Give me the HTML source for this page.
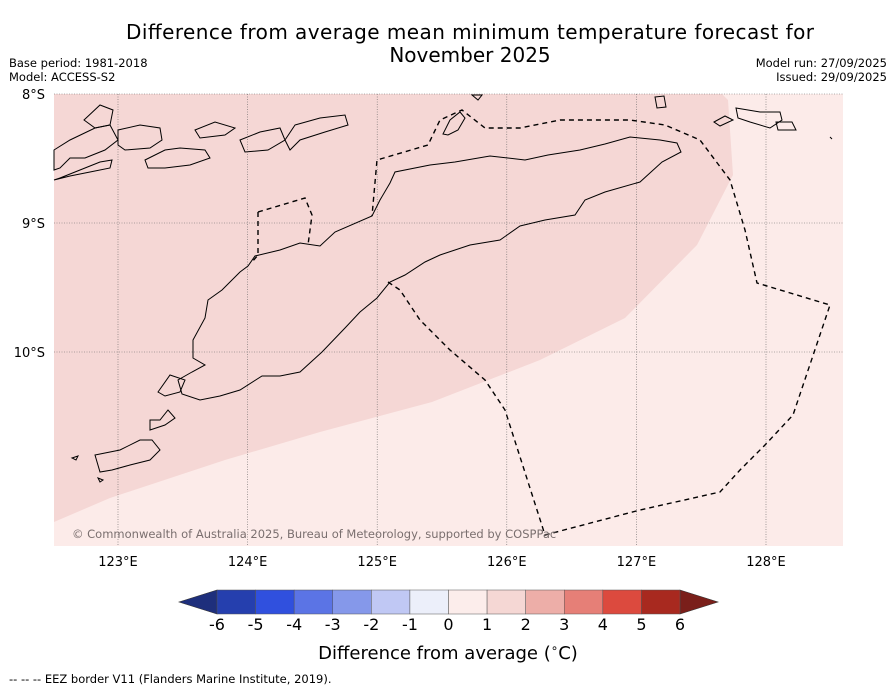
<!DOCTYPE html>
<html><head><meta charset="utf-8"><style>
body{margin:0;width:896px;height:690px;background:#fff;font-family:"DejaVu Sans","Liberation Sans",sans-serif;overflow:hidden}
svg{position:absolute;left:0;top:0}
</style></head><body>
<svg width="896" height="690" viewBox="0 0 896 690" font-family="DejaVu Sans, Liberation Sans, sans-serif">
<text x="470" y="39" font-size="20" text-anchor="middle" textLength="688">Difference from average mean minimum temperature forecast for</text>
<text x="470" y="62" font-size="20" text-anchor="middle">November 2025</text>
<text x="9" y="67" font-size="11.5">Base period: 1981-2018</text>
<text x="9" y="81" font-size="11.5">Model: ACCESS-S2</text>
<text x="887" y="67" font-size="11.5" text-anchor="end">Model run: 27/09/2025</text>
<text x="887" y="81" font-size="11.5" text-anchor="end">Issued: 29/09/2025</text>

<g>
<rect x="54" y="94" width="789" height="452" fill="#fcebe9"/>
<path d="M54,94 L722,94 L728,100 L733,175 L697,245 L625,318 L540,360 L432,402 L320,432 L225,460 L110,498 L54,522 Z" fill="#f5d7d5"/>
<g id="grid" stroke="#666" stroke-width="0.6" stroke-dasharray="1,1.5" fill="none"></g>
<g fill="none" stroke="#000" stroke-width="1">
<path d="M193,358 L193,340 L205,318 L208,300 L222,290 L240,272 L248,266 L255,256 L280,250 L300,243 L320,246 L335,232 L372,216 L380,200 L390,183 L395,172 L430,165 L455,162 L490,156 L525,160 L548,155 L580,150 L605,144 L630,137 L660,140 L677,143 L681,152 L662,162 L640,182 L605,192 L585,200 L575,215 L545,220 L520,226 L500,240 L470,245 L440,255 L425,262 L405,275 L390,282 L377,298 L360,312 L345,328 L322,352 L300,372 L280,376 L262,376 L240,390 L220,396 L200,400 L182,394 L178,380 L192,372 L205,365 Z"/>
<path d="M150,430 L165,425 L175,418 L168,410 L160,420 L150,420 Z M95,455 L120,450 L140,440 L152,440 L160,450 L150,460 L130,465 L112,470 L100,472 Z M158,392 L170,375 L185,380 L180,392 L165,396 Z M72,458 L78,456 L76,460 Z M98,478 L103,480 L100,482 Z"/>
<path d="M54,150 L70,140 L95,128 L110,125 L118,140 L105,150 L85,158 L70,158 L60,168 L54,170 Z M54,180 L70,176 L90,172 L110,168 L112,160 L100,162 L80,170 L60,178 Z"/>
<path d="M118,130 L140,125 L160,128 L162,140 L150,148 L125,150 L118,145 Z M145,160 L165,150 L180,148 L205,150 L210,158 L190,165 L165,168 L148,168 Z M195,130 L215,122 L235,128 L225,135 L200,138 Z"/>
<path d="M240,140 L260,132 L280,128 L285,140 L268,150 L245,152 Z M295,125 L320,118 L345,115 L348,125 L325,132 L300,140 L290,150 L285,140 Z M84,120 L100,105 L113,110 L110,125 L95,128 Z"/>
<path d="M443,134 L450,120 L460,112 L465,118 L458,130 L448,135 Z M472,95 L478,100 L482,95 Z M655,97 L664,96 L666,107 L657,108 Z M714,122 L725,116 L733,120 L720,126 Z M736,108 L760,112 L780,112 L782,120 L770,128 L750,122 L738,118 Z M776,122 L792,122 L796,130 L778,130 Z M830,137 L832,139"/>
</g>
<g fill="none" stroke="#000" stroke-width="1.4" stroke-dasharray="5,4">
<path d="M388,282 L400,290 L420,320 L450,350 L485,380 L505,410 L545,535 L640,510 L720,492 L740,470 L765,445 L793,415 L830,305 L757,283 L745,230 L730,180 L700,140 L665,125 L630,120 L560,120 L520,128 L485,128 L462,110 L440,120 L428,145 L377,160 L372,216"/>
<path d="M258,212 L305,198 L312,215 L308,245 M258,212 L258,255 L252,262"/>
</g>
<text x="72" y="538" font-size="11.5" fill="#7a6f6f">© Commonwealth of Australia 2025, Bureau of Meteorology, supported by COSPPac</text>
<g id="ticks" font-size="13"></g>
</g>

<g id="cbar"></g>
<text x="448" y="659" font-size="18" text-anchor="middle">Difference from average (<tspan font-size="12" dy="-7">∘</tspan><tspan dy="7">C)</tspan></text>
<text x="9" y="683" font-size="11.5">--  --  -- EEZ border V11 (Flanders Marine Institute, 2019).</text>
</svg>
<script>
const lonTicks=[123,124,125,126,127,128];
const latTicks=[8,9,10];
const cbLevels=[-6,-5,-4,-3,-2,-1,0,1,2,3,4,5,6];
const cbColors=["#253fae","#3050de","#5b74e5","#8598ea","#c0c8f4","#eceffa","#fcedeb","#f5d7d4","#edaea8","#e67f77","#dc4a3e","#a8291f"];
const cbExt=["#1e2f7c","#7a1f1a"];
const NS="http://www.w3.org/2000/svg";
const X=lon=>118+(lon-123)*129.6, Y=lat=>94+(lat-8)*129;
function mk(t,a,p){const e=document.createElementNS(NS,t);for(const k in a)e.setAttribute(k,a[k]);p.appendChild(e);return e;}
const grid=document.getElementById('grid'),ticks=document.getElementById('ticks');
lonTicks.forEach(l=>{const ln=mk('line',{x1:X(l),x2:X(l),y1:94,y2:546},grid);


const t=mk('text',{x:X(l),y:566,'text-anchor':'middle'},ticks);t.textContent=l+'°E';

});
latTicks.forEach(l=>{const ln=mk('line',{x1:54,x2:843,y1:Y(l),y2:Y(l)},grid);


const t=mk('text',{x:45,y:Y(l)+5,'text-anchor':'end'},ticks);t.textContent=l+'°S';

});
const cb=document.getElementById('cbar');
const cx0=217,cx1=680,cy=590,ch=24,vmin=cbLevels[0],vmax=cbLevels[cbLevels.length-1];
const CX=v=>cx0+(v-vmin)/(vmax-vmin)*(cx1-cx0);
const e1=mk('polygon',{points:`${cx0},${cy} ${cx0},${cy+ch} 179,${cy+ch/2}`,fill:cbExt[0],stroke:'#333','stroke-width':0.6},cb);


const e2=mk('polygon',{points:`${cx1},${cy} ${cx1},${cy+ch} 718,${cy+ch/2}`,fill:cbExt[1],stroke:'#333','stroke-width':0.6},cb);


cbColors.forEach((c,i)=>{const r=mk('rect',{x:CX(cbLevels[i]),y:cy,width:CX(cbLevels[i+1])-CX(cbLevels[i]),height:ch,fill:c,stroke:'#555','stroke-width':0.5},cb);

});
cbLevels.forEach(v=>{const t=mk('text',{x:CX(v),y:630,'font-size':16,'text-anchor':'middle'},cb);t.textContent=v;

});
</script>
</body></html>
